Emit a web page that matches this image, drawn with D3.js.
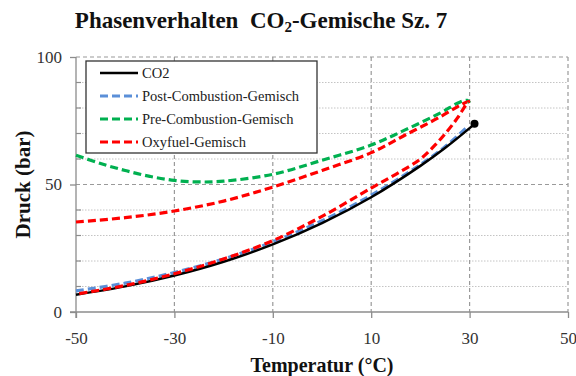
<!DOCTYPE html>
<html><head><meta charset="utf-8">
<script src="https://cdn.jsdelivr.net/npm/d3@7"></script>
<style>body{margin:0;background:#fff}svg{display:block}text{font-family:"Liberation Serif","DejaVu Serif",serif}</style>
</head><body><svg id="c" width="576" height="376"></svg>
<script>
// ---- data ----
const seriesNames = ["CO2", "Post-Combustion-Gemisch", "Pre-Combustion-Gemisch", "Oxyfuel-Gemisch"];
const co2T = [-50, -40, -30, -20, -10, 0, 10, 20, 25, 30, 31];
const co2P = [6.8, 10.05, 14.3, 19.7, 26.5, 34.85, 45.0, 57.3, 64.3, 72.1, 73.8];
const postT = [-50, -40, -30, -20, -10, 0, 10, 20, 25, 29.5];
const postP = [8.3, 11.3, 15.5, 20.8, 27.5, 35.8, 45.8, 57.8, 64.8, 72.5];
const preT = [-50, -45, -40, -35, -30, -25, -20, -10, 0, 10, 17, 24, 28, 29.5, 30];
const preP = [61.5, 58.2, 55.5, 53.2, 51.6, 51.0, 51.3, 54, 59.5, 65.5, 71.5, 78, 82.3, 83, 82];
// Oxyfuel: upper branch (left to right) then lower branch (right to left)
const oxyT = [-50, -40, -30, -20, -10, 0, 10, 17, 24, 28, 29.8, 29, 27.5, 25.5, 23, 20, 15, 10, 0, -10, -20, -30, -40, -50];
const oxyP = [35.3, 37.0, 39.6, 43.5, 49, 55.5, 62.5, 69.5, 76.5, 81, 82.6, 80.5, 76, 71, 65.5, 60, 54, 48.6, 37.5, 28, 20.8, 15, 10.4, 7.0];
const critPoint = [31, 73.8];
const xTicks = [-50, -30, -10, 10, 30, 50];
const yTicks = [0, 50, 100];
const yMinor = [10, 20, 30, 40, 60, 70, 80, 90];

// ---- layout ----
const svg = d3.select("#c");
const L = 76, R = 568, T = 57, B = 312;
const x = d3.scaleLinear().domain([-50, 50]).range([L, R]);
const y = d3.scaleLinear().domain([0, 100]).range([B, T]);
const serif = "Liberation Serif, DejaVu Serif, serif";

// grid
const g = svg.append("g");
g.selectAll(".ym").data(yMinor).join("line")
  .attr("x1", L).attr("x2", R).attr("y1", d => y(d)).attr("y2", d => y(d))
  .attr("stroke", "#c4c4c4").attr("stroke-width", 1).attr("stroke-dasharray", "1.5,1.5");
g.selectAll(".yM").data([50, 100]).join("line")
  .attr("x1", L).attr("x2", R).attr("y1", d => y(d)).attr("y2", d => y(d))
  .attr("stroke", "#9a9a9a").attr("stroke-width", 1.2).attr("stroke-dasharray", "4,3");
g.selectAll(".xM").data(xTicks.slice(1)).join("line")
  .attr("y1", T).attr("y2", B).attr("x1", d => x(d)).attr("x2", d => x(d))
  .attr("stroke", "#9a9a9a").attr("stroke-width", 1.2).attr("stroke-dasharray", "4,3");

// axes
const yAxis = svg.append("g").attr("transform", `translate(${L},0)`)
  .call(d3.axisLeft(y).tickValues(yTicks).tickSize(6).tickPadding(8).tickFormat(d => String(d)));
const xAxis = svg.append("g").attr("transform", `translate(0,${B})`)
  .call(d3.axisBottom(x).tickValues(xTicks).tickSize(6).tickPadding(14).tickFormat(d => String(d)));
[yAxis, xAxis].forEach(a => {
  a.attr("font-family", serif);
  a.select(".domain").attr("stroke", "#8c8c8c").attr("stroke-width", 1.3);
  a.selectAll(".tick line").attr("stroke", "#8c8c8c").attr("stroke-width", 1.3);
  a.selectAll("text").style("font-family", serif).attr("font-size", 17).attr("fill", "#333");
});
yAxis.select(".domain").attr("d", `M0,${B + 6}V${T}`);
xAxis.select(".domain").attr("d", `M${L - 6},0H${R}`);
// minor y ticks (inside)
svg.append("g").selectAll("line").data(yMinor).join("line")
  .attr("x1", L).attr("x2", L + 5).attr("y1", d => y(d)).attr("y2", d => y(d))
  .attr("stroke", "#8c8c8c").attr("stroke-width", 1.2);

// curves
const line = d3.line().x(d => x(d[0])).y(d => y(d[1])).curve(d3.curveCatmullRom.alpha(0.5));
const zip = (a, b) => a.map((v, i) => [v, b[i]]);
const colors = ["#000000", "#5b8fd8", "#00b050", "#ff0000"];
const plot = svg.append("g");
plot.append("path").datum(zip(postT, postP)).attr("d", line)
  .attr("fill", "none").attr("stroke", colors[1]).attr("stroke-width", 3.2).attr("stroke-dasharray", "8,4");
plot.append("path").datum(zip(co2T, co2P)).attr("d", line)
  .attr("fill", "none").attr("stroke", colors[0]).attr("stroke-width", 2.5);
plot.append("path").datum(zip(preT, preP)).attr("d", line)
  .attr("fill", "none").attr("stroke", colors[2]).attr("stroke-width", 3.2).attr("stroke-dasharray", "8,4");
plot.append("path").datum(zip(oxyT, oxyP)).attr("d", line)
  .attr("fill", "none").attr("stroke", colors[3]).attr("stroke-width", 3.2).attr("stroke-dasharray", "8,4");
plot.append("circle").attr("cx", x(critPoint[0])).attr("cy", y(critPoint[1])).attr("r", 4).attr("fill", "#000");

// legend
const lg = svg.append("g");
lg.append("rect").attr("x", 86).attr("y", 61).attr("width", 231).attr("height", 92)
  .attr("fill", "#fff").attr("stroke", "#333").attr("stroke-width", 1.3);
seriesNames.forEach((n, i) => {
  const yy = 73 + i * 23;
  lg.append("line").attr("x1", 100).attr("x2", 138).attr("y1", yy).attr("y2", yy)
    .attr("stroke", colors[i]).attr("stroke-width", i === 0 ? 2.6 : 3.2)
    .attr("stroke-dasharray", i === 0 ? null : "8,4");
  lg.append("text").attr("x", 142).attr("y", yy + 5).text(n)
    .style("font-family", serif).attr("font-size", 14.5).attr("fill", "#222");
});

// titles
const title = svg.append("text").attr("x", 261).attr("y", 28).attr("text-anchor", "middle")
  .style("font-family", serif).style("white-space", "pre")
  .attr("font-weight", "bold").attr("font-size", 23).attr("fill", "#111");
title.append("tspan").text("Phasenverhalten  CO");
title.append("tspan").text("2").attr("font-size", 15).attr("dy", 4);
title.append("tspan").text("-Gemische Sz. 7").attr("dy", -4);
svg.append("text").attr("x", x(0)).attr("y", 372).attr("text-anchor", "middle")
  .style("font-family", serif).attr("font-weight", "bold").attr("font-size", 20).attr("fill", "#111")
  .text("Temperatur (°C)");
svg.append("text").attr("transform", `translate(30,${y(50)}) rotate(-90)`).attr("text-anchor", "middle")
  .style("font-family", serif).attr("font-weight", "bold").attr("font-size", 21).attr("fill", "#111")
  .text("Druck (bar)");
</script></body></html>
